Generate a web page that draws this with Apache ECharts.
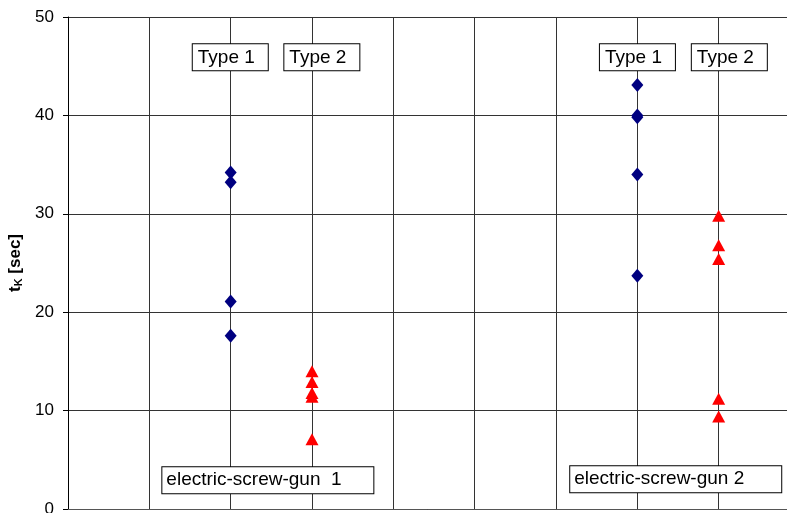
<!DOCTYPE html>
<html>
<head>
<meta charset="utf-8">
<script src="https://cdn.jsdelivr.net/npm/echarts@6/dist/echarts.min.js"></script>
<style>
  html, body { margin: 0; padding: 0; background: #fff; }
  #chart { width: 787px; height: 513px; }
</style>
</head>
<body>
<div id="chart"></div>
<script>
// Measured tightening times per screw gun and joint type
const gunPositions = { gun1Type1: 2, gun1Type2: 3, gun2Type1: 7, gun2Type2: 8 };
const gun1Type1 = [34.2, 33.2, 21.1, 17.6];
const gun1Type2 = [14.0, 12.9, 11.8, 11.4, 7.1];
const gun2Type1 = [43.1, 40.0, 39.8, 34.0, 23.7];
const gun2Type2 = [29.8, 26.8, 25.4, 11.2, 9.4];
const yTicks = [0, 10, 20, 30, 40, 50];

// Text boxes: [label, x anchor (left edge), y anchor (middle)]
const typeBoxes = [
  ['Type 1', 1.534, 45.9],
  ['Type 2', 2.66, 45.9],
  ['Type 1', 6.54, 45.9],
  ['Type 2', 7.67, 45.9]
];
const gunBoxes = [
  ['electric-screw-gun  1', 1.16, 2.93],
  ['electric-screw-gun 2', 6.175, 3.03]
];

const toPoints = (x, vals) => vals.map(v => [x, v]);

const FONT = '"Liberation Sans", Arial, sans-serif';

const chart = echarts.init(document.getElementById('chart'), null, { renderer: 'canvas' });

const boxLabel = (width, padding) => ({
  show: true,
  position: 'right',
  distance: 0,
  formatter: p => p.data.name,
  color: '#000',
  opacity: 1,
  fontFamily: FONT,
  fontSize: 19,
  backgroundColor: '#fff',
  borderColor: '#000',
  borderWidth: 1,
  padding: padding,
  width: width,
  align: 'left'
});

const markerSeries = (name, symbol, size, color, points) => ({
  name: name,
  type: 'scatter',
  symbol: symbol,
  symbolSize: size,
  itemStyle: { color: color, opacity: 1 },
  emphasis: { disabled: true },
  data: points,
  z: 5
});

chart.setOption({
  animation: false,
  backgroundColor: '#fff',
  grid: { left: 68, top: 17, width: 732, height: 492, containLabel: false, outerBoundsMode: 'none' },
  xAxis: {
    type: 'value',
    min: 0,
    max: 9,
    interval: 1,
    axisLine: { show: true, lineStyle: { color: '#555', width: 1 } },
    axisTick: { show: false },
    axisLabel: { show: false },
    splitLine: { show: true, lineStyle: { color: '#333', width: 1 } }
  },
  yAxis: {
    type: 'value',
    min: yTicks[0],
    max: yTicks[yTicks.length - 1],
    interval: 10,
    name: '{t|t}{k|K}{t| [sec]}',
    nameLocation: 'middle',
    nameGap: 40,
    nameRotate: 90,
    nameTextStyle: {
      rich: {
        t: { fontFamily: FONT, fontWeight: 'bold', fontSize: 17, color: '#000', lineHeight: 20, verticalAlign: 'bottom' },
        k: { fontFamily: FONT, fontWeight: 'bold', fontSize: 11, color: '#000', lineHeight: 14, verticalAlign: 'bottom' }
      }
    },
    axisLine: { show: true, lineStyle: { color: '#000', width: 1 } },
    axisTick: { show: true, inside: false, length: 5, lineStyle: { color: '#000' } },
    axisLabel: { color: '#000', fontFamily: FONT, fontSize: 17, margin: 14 },
    splitLine: { show: true, lineStyle: { color: '#333', width: 1 } }
  },
  series: [
    markerSeries('Type 1, gun 1', 'diamond', [12, 14], '#000080', toPoints(gunPositions.gun1Type1, gun1Type1)),
    markerSeries('Type 2, gun 1', 'triangle', [13, 12], '#ff0000', toPoints(gunPositions.gun1Type2, gun1Type2)),
    markerSeries('Type 1, gun 2', 'diamond', [12, 14], '#000080', toPoints(gunPositions.gun2Type1, gun2Type1)),
    markerSeries('Type 2, gun 2', 'triangle', [13, 12], '#ff0000', toPoints(gunPositions.gun2Type2, gun2Type2)),
    {
      name: 'type labels',
      type: 'scatter',
      symbolSize: 0,
      silent: true,
      itemStyle: { opacity: 1 },
      label: boxLabel(70, [4, 0, 3, 5]),
      data: typeBoxes.map(b => ({ name: b[0], value: [b[1], b[2]] })),
      z: 10
    },
    {
      name: 'gun labels',
      type: 'scatter',
      symbolSize: 0,
      silent: true,
      itemStyle: { opacity: 1 },
      label: boxLabel(207, [4, 0, 3, 4]),
      data: gunBoxes.map(b => ({ name: b[0], value: [b[1], b[2]] })),
      z: 10
    }
  ]
});
</script>
</body>
</html>
